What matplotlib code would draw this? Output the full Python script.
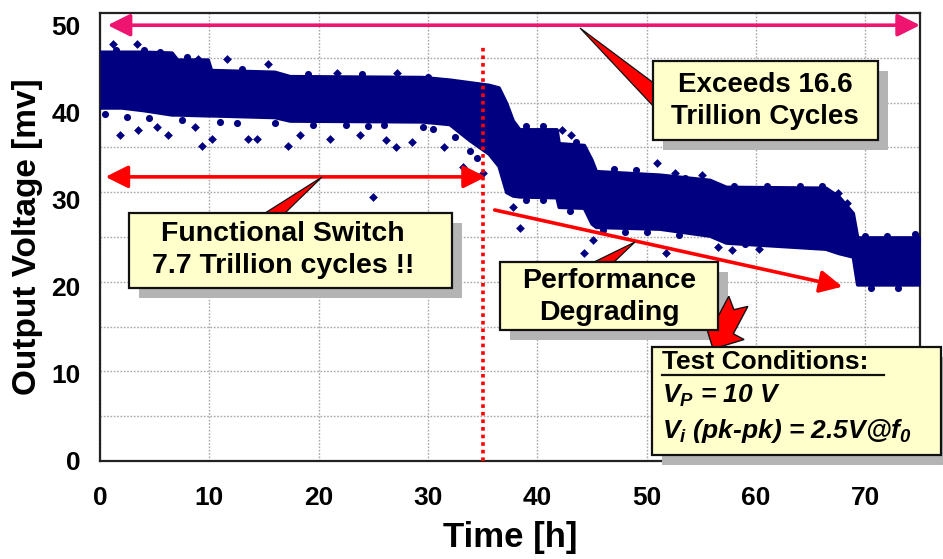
import numpy as np
import matplotlib
matplotlib.use('Agg')
import matplotlib.pyplot as plt
from matplotlib.patches import Rectangle, Polygon
from matplotlib.lines import Line2D
from matplotlib.ticker import FixedLocator

plt.rcParams['font.family'] = ['Liberation Sans', 'DejaVu Sans']
plt.rcParams['font.weight'] = 'bold'
plt.rcParams['mathtext.fontset'] = 'custom'
plt.rcParams['mathtext.rm'] = 'Liberation Sans'
plt.rcParams['mathtext.it'] = 'Liberation Sans:italic'
plt.rcParams['mathtext.bf'] = 'Liberation Sans:bold'
plt.rcParams['mathtext.bfit'] = 'Liberation Sans:bold:italic'

# ---------------- data ----------------
# dense band of measurements: upper / lower edge of the point cloud
time_h = [0, 2, 4, 6.6, 7.1, 9.9, 10.2, 16, 17.4, 29.5, 32, 33.8, 35.6, 36.5,
          37.2, 37.8, 38.4, 41.8, 42.0, 44.3, 45.0, 45.4, 51.2, 55.8, 57.3,
          66.4, 67.6, 68.9, 69.3, 75]
volt_upper = [46.9, 46.9, 46.9, 46.8, 46.0, 46.0, 44.8, 44.6, 44.1, 44.0, 43.7,
              43.4, 43.1, 42.8, 41.0, 39.0, 38.0, 38.0, 36.4, 36.2, 34.5, 33.2,
              32.8, 32.2, 31.4, 31.3, 30.3, 28.4, 25.6, 25.6]
volt_lower = [40.5, 40.5, 40.2, 39.7, 39.7, 39.6, 39.6, 39.4, 39.0, 38.9, 38.6,
              36.8, 35.2, 33.8, 30.8, 30.4, 30.3, 30.2, 29.1, 29.0, 27.2, 26.8,
              26.6, 25.8, 25.0, 24.3, 23.8, 23.4, 20.2, 20.2]
# isolated scattered points outside the dense band
outlier_t = [1.2, 3.4, 9.0, 11.6, 15.4, 21.7, 27.2, 1.8, 3.5, 5.2, 6.2, 8.7,
             9.3, 10.2, 13.5, 14.4, 17.2, 18.3, 21.0, 23.8, 25.0, 26.2, 27.1,
             28.5, 31.5, 33.2, 35.0, 37.8, 38.4, 42.3, 43.1, 44.3, 45.1, 50.9,
             51.8, 52.6, 55.1, 56.5, 57.8, 60.3, 67.5, 68.3, 74.8]
outlier_v = [47.8, 47.8, 46.1, 46.1, 45.6, 44.5, 44.5, 37.4, 38.0, 38.3, 37.4,
             38.3, 36.1, 37.0, 37.0, 37.0, 36.1, 37.4, 37.0, 37.4, 30.3, 36.8,
             36.0, 36.6, 36.0, 33.7, 33.1, 29.1, 26.7, 38.0, 37.4, 23.9, 25.3,
             34.2, 23.9, 33.1, 32.8, 24.5, 24.2, 24.3, 30.7, 29.6, 25.5]
# points sitting just outside the band edges (ragged border of the cloud)
edge_t = [0.5, 2.5, 4.5, 7.5, 11.0, 12.5, 16.0, 19.5, 22.5, 24.5, 26.0, 29.5,
          30.5, 32.5, 33.8, 34.5, 1.5, 4.0, 5.5, 8.0, 13.0, 19.0, 24.0, 30.0,
          39.0, 40.5, 43.0, 46.0, 48.0, 50.0, 53.0, 59.0, 62.0, 64.0, 39.0,
          40.5, 43.5, 47.0, 49.0, 53.5, 58.0, 61.0, 64.0, 66.0, 70.0, 72.0,
          74.5, 70.5, 73.0]
edge_v = [39.8, 39.5, 39.3, 39.1, 38.9, 38.8, 38.8, 38.5, 38.6, 38.4, 38.5, 38.3,
          38.1, 37.2, 35.6, 34.8, 47.1, 47.1, 46.9, 46.3, 45.0, 44.4, 44.4, 44.0,
          29.9, 29.9, 28.7, 26.5, 26.3, 26.3, 25.9, 24.9, 25.0, 24.9, 38.4,
          38.4, 36.6, 33.5, 33.4, 32.5, 31.6, 31.6, 31.6, 31.5, 25.8, 25.8,
          26.0, 19.9, 19.9]

x_ticks = [0, 10, 20, 30, 40, 50, 60, 70]
y_ticks = [0, 10, 20, 30, 40, 50]
x_label = 'Time [h]'
y_label = 'Output Voltage [mv]'

switch_time = 35          # functional switch end
total_level = 50          # level of the "exceeds" arrow
switch_level = 32.6       # level of the "functional switch" arrow
degrade_start = (36.1, 28.8)
degrade_end = (67.9, 20.0)

# ---------------- figure ----------------
W, H = 943, 559
fig = plt.figure(figsize=(W / 100, H / 100), dpi=100)
ax = fig.add_axes([100 / W, 1 - 461 / H, 820 / W, 448 / H])
XMAX, YMAX = 75, 51.4
ax.set_xlim(0, XMAX)
ax.set_ylim(0, YMAX)

navy = '#000080'
ax.fill_between(time_h, volt_lower, volt_upper, color=navy, lw=0, zorder=3)
ax.plot(time_h, volt_upper, color=navy, lw=2.5, zorder=3)
ax.plot(time_h, volt_lower, color=navy, lw=2.5, zorder=3)
ax.scatter(edge_t, edge_v, marker='o', s=26, color=navy, lw=0, zorder=3)
ax.scatter(outlier_t, outlier_v, marker='D', s=20, color=navy, lw=0, zorder=3)

# grid
ax.xaxis.set_major_locator(FixedLocator(x_ticks))
ax.yaxis.set_major_locator(FixedLocator(y_ticks))
ax.yaxis.set_minor_locator(FixedLocator(np.linspace(0, YMAX, 11)[1:-1]))
ax.grid(False)
ax.xaxis.grid(True, which='major', color='#A8A8A8', ls=(0, (1.2, 1.2)), lw=1.0)
ax.yaxis.grid(True, which='minor', color='#A8A8A8', ls=(0, (1.2, 1.2)), lw=1.0)
ax.set_axisbelow(True)
ax.tick_params(axis='both', which='both', length=0)
ax.tick_params(axis='y', labelsize=19, pad=14)
ax.tick_params(axis='x', labelsize=19, pad=18)
for lab in ax.get_xticklabels() + ax.get_yticklabels():
    lab.set_fontweight('bold')
for sp in ax.spines.values():
    sp.set_linewidth(1.6)
    sp.set_color('#222222')

ax.set_xlabel(x_label, fontsize=25, fontweight='bold', labelpad=8)
ax.set_ylabel(y_label, fontsize=24, fontweight='bold', labelpad=6)

# arrows
pink = '#EE1470'
red = '#FF0000'
ax.annotate('', xy=(XMAX, total_level), xytext=(0.7, total_level),
            arrowprops=dict(arrowstyle='<|-|>', mutation_scale=34, lw=2.6,
                            color=pink, shrinkA=0, shrinkB=0), zorder=4)
ax.annotate('', xy=(switch_time + 0.3, switch_level), xytext=(0.5, switch_level),
            arrowprops=dict(arrowstyle='<|-|>', mutation_scale=34, lw=2.6,
                            color=red, shrinkA=0, shrinkB=0), zorder=4)
ax.annotate('', xy=degrade_end, xytext=degrade_start,
            arrowprops=dict(arrowstyle='-|>', mutation_scale=34, lw=2.6,
                            color=red, shrinkA=0, shrinkB=0), zorder=4)
ax.plot([switch_time, switch_time], [0, 47.5], color=red, lw=2.6,
        ls=(0, (1, 1.1)), zorder=4, solid_capstyle='butt')


# ---------------- callouts (figure pixel coords) ----------------
def P(x, y):
    return (x / W, 1 - y / H)


def callout_box(x0, y0, x1, y1):
    fig.add_artist(Rectangle(P(x0 + 10, y1 + 10), (x1 - x0) / W, (y1 - y0) / H,
                             transform=fig.transFigure, facecolor='#B4B4B4',
                             edgecolor='none', zorder=10))
    fig.add_artist(Rectangle(P(x0, y1), (x1 - x0) / W, (y1 - y0) / H,
                             transform=fig.transFigure, facecolor='#FFFFCC',
                             edgecolor='#111111', lw=1.6, zorder=12))


def wedge(pts):
    fig.add_artist(Polygon([P(*p) for p in pts], closed=True,
                           transform=fig.transFigure, facecolor=red,
                           edgecolor='#111111', lw=0.9, zorder=11))


# Exceeds box
wedge([(580, 28), (655, 84), (655, 108)])
callout_box(653, 61, 878, 140)
fig.text(*P(765, 101), 'Exceeds 16.6\nTrillion Cycles', ha='center', va='center',
         fontsize=20, fontweight='bold', linespacing=1.25, zorder=13)

# Functional switch box
wedge([(322, 177), (262, 215), (283, 215)])
callout_box(129, 213, 452, 288)
fig.text(*P(283, 250), 'Functional Switch\n7.7 Trillion cycles !!', ha='center',
         va='center', fontsize=20.5, fontweight='bold', linespacing=1.3, zorder=13)

# Performance degrading box
wedge([(635, 242), (590, 264), (612, 264)])
callout_box(500, 262, 718, 330)
fig.text(*P(609, 297), 'Performance\nDegrading', ha='center', va='center',
         fontsize=20.5, fontweight='bold', linespacing=1.25, zorder=13)

# block arrow pointing to the test conditions box
th = np.deg2rad(28)
s = 1.35
local = [(0, 0), (-17, -17), (-8, -17), (-8, -40), (0, -33), (8, -40), (8, -17), (17, -17)]
blk = []
for lx, ly in local:
    lx, ly = lx * s, ly * s
    blk.append((713 + lx * np.cos(th) - ly * np.sin(th), 349 + lx * np.sin(th) + ly * np.cos(th)))
fig.add_artist(Polygon([P(*p) for p in blk], closed=True, transform=fig.transFigure,
                       facecolor=red, edgecolor='#111111', lw=1.0, zorder=11))

# Test conditions box
callout_box(652, 347, 941, 455)
fig.text(*P(662, 362), 'Test Conditions:', ha='left', va='center', fontsize=19,
         fontweight='bold', zorder=13)
fig.add_artist(Line2D([662 / W, 884 / W], [1 - 375 / H, 1 - 375 / H],
                      transform=fig.transFigure, color='#111111', lw=1.6, zorder=13))
fig.text(*P(662, 396), r'$\mathbfit{V_P}$ = 10 V', ha='left', va='center',
         fontsize=19, fontweight='bold', style='italic', zorder=13)
fig.text(*P(662, 431), r'$\mathbfit{V_i}$ (pk-pk) = 2.5V@$\mathbfit{f_0}$', ha='left',
         va='center', fontsize=19, fontweight='bold', style='italic', zorder=13)

fig.savefig('out.png', dpi=100)
